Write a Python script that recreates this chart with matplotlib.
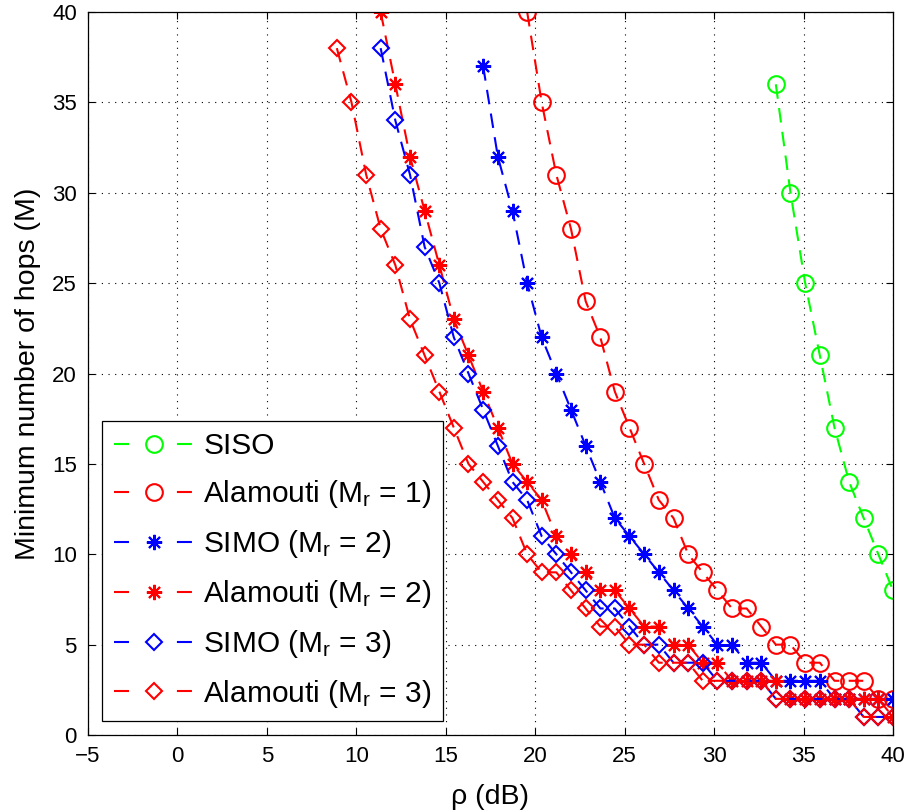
import matplotlib
matplotlib.use("Agg")
import matplotlib.pyplot as plt

plt.rcParams['font.family'] = ['Liberation Sans', 'DejaVu Sans']
plt.rcParams['mathtext.fontset'] = 'custom'
plt.rcParams['mathtext.rm'] = 'Liberation Sans'
plt.rcParams['mathtext.it'] = 'Liberation Sans:italic'

# rho grid (dB)
rho_db = [8.91, 9.73, 10.55, 11.36, 12.18, 13.00, 13.82, 14.64, 15.45, 16.27,
          17.09, 17.91, 18.73, 19.55, 20.36, 21.18, 22.00, 22.82, 23.64, 24.45,
          25.27, 26.09, 26.91, 27.73, 28.55, 29.36, 30.18, 31.00, 31.82, 32.64,
          33.45, 34.27, 35.09, 35.91, 36.73, 37.55, 38.36, 39.18, 40.00]

siso = [36, 30, 25, 21, 17, 14, 12, 10, 8]
alamouti_1 = [40, 35, 31, 28, 24, 22, 19, 17, 15, 13, 12, 10, 9, 8, 7, 7, 6, 5, 5,
              4, 4, 3, 3, 3, 2, 2]
simo_2 = [37, 32, 29, 25, 22, 20, 18, 16, 14, 12, 11, 10, 9, 8, 7, 6, 5, 5, 4, 4,
          3, 3, 3, 3, 2, 2, 2, 2, 2]
alamouti_2 = [40, 36, 32, 29, 26, 23, 21, 19, 17, 15, 14, 13, 11, 10, 9, 8, 8, 7, 6, 6,
              5, 5, 4, 4, 3, 3, 3, 3, 2, 2, 2, 2, 2, 2, 2, 1]
simo_3 = [38, 34, 31, 27, 25, 22, 20, 18, 16, 14, 13, 11, 10, 9, 8, 7, 7, 6, 5, 5,
          4, 4, 4, 3, 3, 3, 3, 2, 2, 2, 2, 2, 2, 1, 1, 1]
alamouti_3 = [38, 35, 31, 28, 26, 23, 21, 19, 17, 15, 14, 13, 12, 10, 9, 9, 8, 7, 6, 6,
              5, 5, 4, 4, 4, 3, 3, 3, 3, 3, 2, 2, 2, 2, 2, 2, 1, 1, 1]

labels = ['SISO', r'Alamouti (M$_\mathrm{r}$ = 1)', r'SIMO (M$_\mathrm{r}$ = 2)',
          r'Alamouti (M$_\mathrm{r}$ = 2)', r'SIMO (M$_\mathrm{r}$ = 3)',
          r'Alamouti (M$_\mathrm{r}$ = 3)']
x_ticks = [-5, 0, 5, 10, 15, 20, 25, 30, 35, 40]
y_ticks = [0, 5, 10, 15, 20, 25, 30, 35, 40]

series = [
    (siso, (0, 1, 0), 'o', 12),
    (alamouti_1, (1, 0, 0), 'o', 12),
    (simo_2, (0, 0, 1), (8, 2, 0), 11),
    (alamouti_2, (1, 0, 0), (8, 2, 0), 11),
    (simo_3, (0, 0, 1), 'D', 8.3),
    (alamouti_3, (1, 0, 0), 'D', 8.3),
]

fig = plt.figure(figsize=(9.09, 8.11), dpi=100)
ax = fig.add_axes([0.0968, 0.0937, 0.8856, 0.8915])

for (vals, col, mk, ms), lab in zip(series, labels):
    xs = rho_db[len(rho_db) - len(vals):]
    ax.plot(xs, vals, color=col, linestyle=(0, (7, 4.5)), linewidth=1.5,
            marker=mk, markersize=ms, markerfacecolor='none',
            markeredgecolor=col, markeredgewidth=1.5, label=lab)

ax.set_xlim(-5, 40)
ax.set_ylim(0, 40)
ax.set_xticks(x_ticks)
ax.set_yticks(y_ticks)
ax.tick_params(direction='in', length=5, width=0.8, top=True, right=True,
               labelsize=16, pad=8)
ax.grid(True, color='black', linestyle=(0, (1, 5)), linewidth=0.8)
for s in ax.spines.values():
    s.set_linewidth(0.9)
    s.set_color('black')

ax.set_xlabel(r'ρ (dB)', fontsize=20.5, labelpad=12)
ax.set_ylabel('Minimum number of hops (M)', fontsize=20.5, labelpad=8)

leg = ax.legend(loc='lower left', bbox_to_anchor=(0.018, 0.019), borderaxespad=0,
                fontsize=21.5, handlelength=2.7, handletextpad=0.3,
                labelspacing=0.6, borderpad=0.38, fancybox=False,
                framealpha=1, edgecolor='black', numpoints=1)
leg.get_frame().set_linewidth(0.9)
for h in leg.get_lines():
    h.set_linestyle((0, (7.2, 23)))

fig.savefig('out.png', dpi=100)
